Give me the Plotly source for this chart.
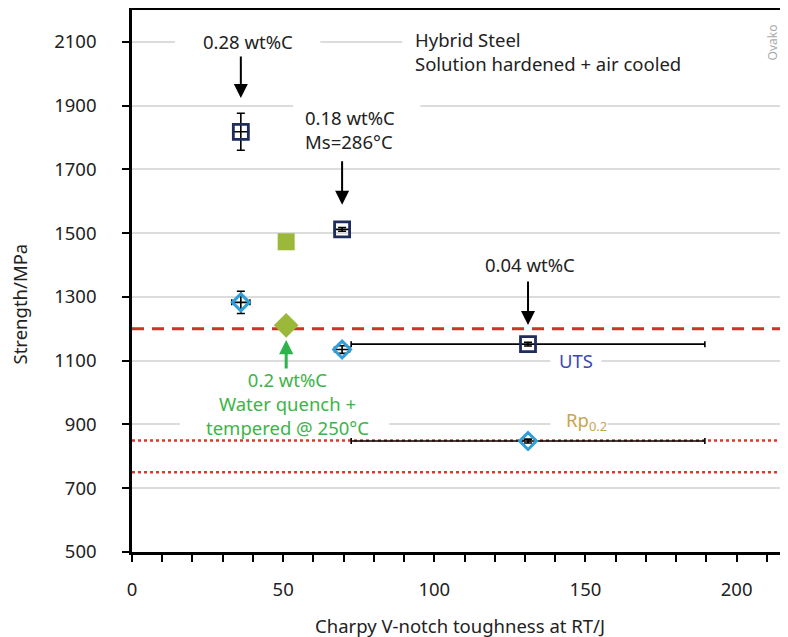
import plotly.graph_objects as go

# ---------------- data ----------------
# Hybrid steel, solution hardened + air cooled (0.28, 0.18, 0.04 wt%C)
uts_x = [36, 69.5, 131]
uts_y = [1818, 1512, 1152]
uts_xerr = [2.5, 2.5, 58.5]
uts_yerr = [58, 6, 6]

rp_x = [36, 69.5, 131]
rp_y = [1283, 1135, 848]
rp_xerr = [3, 2.5, 58.5]
rp_yerr = [35, 12, 6]

# 0.2 wt%C water quench + tempered @ 250C
wq_x = [51]
wq_uts = [1473]
wq_rp = [1211]

# reference levels
uts_ref = [1200]
rp_refs = [850, 750]

x_range = [0, 217]
y_range = [500, 2200]

FONT = "Noto Sans"
TXT = "#222222"
NAVY = "#1f2d5c"
BLUE = "#2e9fd8"
GREEN = "#9cb83a"
RED = "#c8352b"
FS = 18.5

fig = go.Figure()

fig.add_trace(go.Scatter(
    x=uts_x, y=uts_y, mode="markers",
    marker=dict(symbol="square-open", size=15, color=NAVY, line=dict(width=2.8, color=NAVY)),
    error_x=dict(type="data", array=uts_xerr, color="black", thickness=1.6, width=3),
    error_y=dict(type="data", array=uts_yerr, color="black", thickness=1.6, width=4),
    showlegend=False, name="UTS"))

fig.add_trace(go.Scatter(
    x=rp_x, y=rp_y, mode="markers",
    marker=dict(symbol="diamond-open", size=13, color=BLUE, line=dict(width=3, color=BLUE)),
    error_x=dict(type="data", array=rp_xerr, color="black", thickness=1.6, width=3),
    error_y=dict(type="data", array=rp_yerr, color="black", thickness=1.6, width=4),
    showlegend=False, name="Rp0.2"))

fig.add_trace(go.Scatter(
    x=wq_x, y=wq_uts, mode="markers",
    marker=dict(symbol="square", size=17, color=GREEN),
    showlegend=False))
fig.add_trace(go.Scatter(
    x=wq_x, y=wq_rp, mode="markers",
    marker=dict(symbol="diamond", size=19, color=GREEN),
    showlegend=False))

shapes = []
# white boxes behind labels (interrupt gridlines)
covers = [
    (14.2, 62.3, 2068, 2131),
    (89.4, 215.6, 2068, 2131),
    (53.3, 95.4, 1874, 1924),
    (138.4, 155.3, 1071, 1134),
    (15.9, 85.1, 870, 933),
    (138.4, 157.3, 870, 933),
]
for x0, x1, y0, y1 in covers:
    shapes.append(dict(type="rect", xref="x", yref="y", x0=x0, x1=x1, y0=y0, y1=y1,
                       fillcolor="white", line=dict(width=0), layer="between"))
for v in uts_ref:
    shapes.append(dict(type="line", xref="paper", yref="y", x0=0, x1=1, y0=v, y1=v,
                       line=dict(color=RED, width=3, dash="12px,8px"), layer="between"))
for v in rp_refs:
    shapes.append(dict(type="line", xref="paper", yref="y", x0=0, x1=1, y0=v, y1=v,
                       line=dict(color="#d93a30", width=2.5, dash="dot"), layer="between"))

ann = []
def txt(x, y, s, color=TXT, size=FS, xanchor="center", align="center", **kw):
    ann.append(dict(x=x, y=y, xref="x", yref="y", text=s, showarrow=False,
                    font=dict(family=FONT, size=size, color=color),
                    xanchor=xanchor, yanchor="middle", align=align, **kw))

txt(38.5, 2100, "0.28 wt%C")
txt(56.5, 1824, "0.18 wt%C<br>Ms=286°C", xanchor="left", align="left")
txt(131.5, 1402, "0.04 wt%C")
txt(93, 2069, "Hybrid Steel<br>Solution hardened + air cooled", xanchor="left", align="left")
txt(51.3, 967, "0.2 wt%C<br>Water quench +<br>tempered @ 250°C", color="#3db449")
txt(147, 1102, "UTS", color="#3b4ab0")
txt(150.5, 910, "Rp<sub>0.2</sub>", color="#c9a54e")

def arrow(x, y_head, y_tail, color="black", width=2, size=1.4):
    ann.append(dict(x=x, y=y_head, ax=x, ay=y_tail, xref="x", yref="y", axref="x", ayref="y",
                    text="", showarrow=True, arrowhead=2, arrowsize=size, arrowwidth=width,
                    arrowcolor=color, standoff=0))

arrow(36, 1924, 2059)
arrow(69.5, 1589, 1730)
arrow(131, 1212, 1353)
arrow(51, 1165, 1071, color="#2db34a", width=3, size=0.95)

ann.append(dict(x=0.977, y=0.94, xref="paper", yref="paper", text="Ovako", showarrow=False,
                textangle=-90, font=dict(family=FONT, size=12, color="#aaaaaa"),
                xanchor="center", yanchor="middle"))
ann.append(dict(x=0.5, y=-0.1347, xref="paper", yref="paper", text="Charpy V-notch toughness at RT/J",
                showarrow=False, font=dict(family=FONT, size=FS, color=TXT),
                xanchor="center", yanchor="middle"))
ann.append(dict(x=-0.170, y=0.4576, xref="paper", yref="paper", text="Strength/MPa",
                showarrow=False, textangle=-90, font=dict(family=FONT, size=FS, color=TXT),
                xanchor="center", yanchor="middle", borderpad=0))

# page body has an 8px default margin, so the figure is 8px smaller and offset
fig.update_layout(
    width=780, height=629,
    margin=dict(l=124, r=0, t=2, b=85),
    paper_bgcolor="white", plot_bgcolor="white",
    font=dict(family=FONT, size=FS, color=TXT),
    shapes=shapes, annotations=ann,
    xaxis=dict(range=x_range, dtick=50, tick0=0, showgrid=False, zeroline=False, automargin=False,
               showline=True, linecolor="black", linewidth=2.5, mirror=True,
               ticks="outside", ticklen=7, tickwidth=2, tickcolor="black",
               ticklabelstandoff=12, tickfont=dict(family=FONT, size=FS, color=TXT),
               minor=dict(dtick=10, ticks="outside", ticklen=7, tickwidth=2, tickcolor="black",
                          showgrid=False)),
    yaxis=dict(range=y_range, dtick=200, tick0=500, showgrid=True, gridcolor="#dcdcdc", gridwidth=1.5,
               zeroline=False, showline=True, linecolor="black", linewidth=2.5, automargin=False,
               ticks="outside", ticklen=7, tickwidth=2, tickcolor="black",
               ticklabelstandoff=22, tickfont=dict(family=FONT, size=FS, color=TXT)),
)

fig.write_html("out.html")
